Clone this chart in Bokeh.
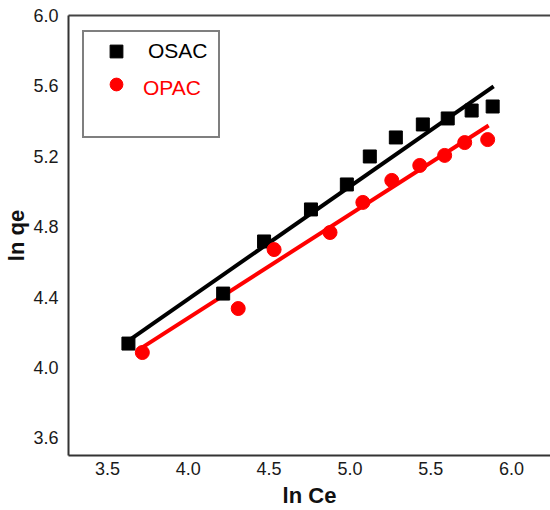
import numpy as np
from bokeh.plotting import figure
from bokeh.models import (Range1d, FixedTicker, LinearAxis, Legend, LegendItem,
                          PrintfTickFormatter)
from bokeh.embed import file_html
from bokeh.resources import INLINE

# ---- data ----
osac_x = [3.63, 4.216, 4.469, 4.759, 4.981, 5.123, 5.284, 5.451, 5.605, 5.753, 5.883]
osac_y = [4.136, 4.42, 4.716, 4.898, 5.04, 5.199, 5.307, 5.381, 5.415, 5.46, 5.483]

opac_x = [3.716, 4.309, 4.531, 4.877, 5.08, 5.259, 5.432, 5.586, 5.71, 5.852]
opac_y = [4.085, 4.335, 4.67, 4.767, 4.938, 5.063, 5.148, 5.205, 5.278, 5.295]

osac_fit_x = [3.642, 5.889]
osac_fit_y = [4.16, 5.597]
opac_fit_x = [3.716, 5.858]
opac_fit_y = [4.114, 5.375]

x_ticks = [3.5, 4.0, 4.5, 5.0, 5.5, 6.0]
y_ticks = [3.6, 4.0, 4.4, 4.8, 5.2, 5.6, 6.0]

FONT = "Liberation Sans"

p = figure(width=550, height=510, output_backend="svg", toolbar_location=None,
           x_range=Range1d(3.2593, 6.2407), y_range=Range1d(3.5, 6.0),
           min_border_left=68, min_border_top=15, min_border_bottom=55,
           min_border_right=0, background_fill_color="white",
           border_fill_color="white")
p.grid.visible = False
p.outline_line_color = None

for ax in (p.xaxis[0], p.yaxis[0]):
    ax.axis_line_width = 2
    ax.axis_line_color = "#333333"
    ax.major_tick_line_color = None
    ax.minor_tick_line_color = None
    ax.major_label_text_font = FONT
    ax.major_label_text_font_size = "18px"
    ax.major_label_text_color = "#1a1a1a"
    ax.formatter = PrintfTickFormatter(format="%.1f")
    ax.axis_label_text_font = FONT
    ax.axis_label_text_font_style = "bold"
    ax.axis_label_text_font_size = "22px"
    ax.axis_label_text_color = "#111111"
p.xaxis.ticker = FixedTicker(ticks=x_ticks)
p.yaxis.ticker = FixedTicker(ticks=y_ticks)
p.xaxis.major_label_standoff = 0
p.yaxis.major_label_standoff = 4
p.xaxis.axis_label = "ln Ce"
p.yaxis.axis_label = "ln qe"
p.xaxis.axis_label_standoff = 5
p.yaxis.axis_label_standoff = 1

top = LinearAxis(ticker=FixedTicker(ticks=[]), axis_line_width=2,
                 axis_line_color="#444444", major_tick_line_color=None,
                 minor_tick_line_color=None, major_label_text_font_size="0px",
                 major_label_standoff=0)
p.add_layout(top, "above")

# fitted lines
p.line(osac_fit_x, osac_fit_y, line_color="black", line_width=4)
p.line(opac_fit_x, opac_fit_y, line_color="red", line_width=4)

# points
sq = p.scatter(osac_x, osac_y, marker="square", size=13, color="black")
ci = p.scatter(opac_x, opac_y, marker="circle", size=14, color="red")
ghost = p.scatter(x=[], y=[], marker="square", size=1, alpha=0)

common = dict(margin=0, padding=3, spacing=1,
              glyph_width=58, glyph_height=32, label_height=32, label_width=67,
              label_standoff=3, label_text_font=FONT, label_text_font_size="21px")

legA = Legend(items=[LegendItem(label="OSAC", renderers=[sq]),
                     LegendItem(label=" ", renderers=[ci]),
                     LegendItem(label=" ", renderers=[ghost])],
              location=(14, 317),
              border_line_color="black", border_line_width=2,
              background_fill_color="white", background_fill_alpha=1,
              label_text_color="black", **common)
legB = Legend(items=[LegendItem(label="OPAC", renderers=[ghost])],
              location=(14, 351),
              border_line_color=None, background_fill_alpha=0,
              label_text_color="red", **common)
p.add_layout(legA)
p.add_layout(legB)

open("out.html", "w").write(file_html(p, INLINE))
